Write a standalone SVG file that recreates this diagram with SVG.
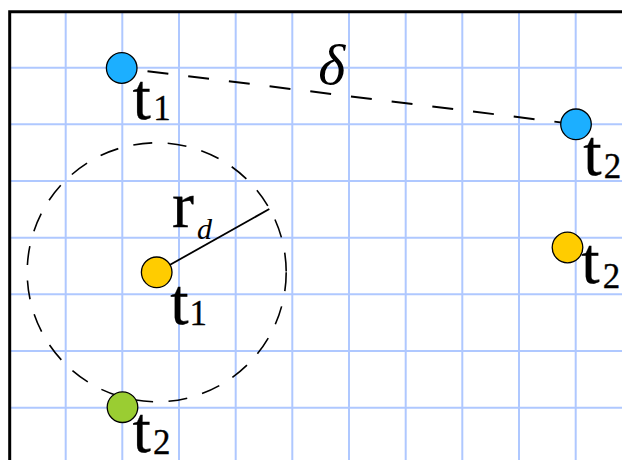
<svg xmlns="http://www.w3.org/2000/svg" width="622" height="460" viewBox="0 0 622 460">
<style>
.grid line{stroke:#AFC8FF;stroke-width:2}
.dot{stroke:#000;stroke-width:1.3}
.lbl{font-family:"Liberation Serif",serif;font-size:66px;text-anchor:middle;fill:#000;stroke:#000;stroke-width:0.3}
.sub{font-family:"Liberation Serif",serif;font-size:35px;text-anchor:middle;fill:#000;stroke:#000;stroke-width:0.3}
.it{font-family:"Liberation Serif",serif;font-style:italic;text-anchor:middle;fill:#000}
</style>
<rect width="622" height="460" fill="#fff"/>
<g id="grid" class="grid">
<line x1="65.7" y1="11" x2="65.7" y2="460"/>
<line x1="122.3" y1="11" x2="122.3" y2="460"/>
<line x1="179" y1="11" x2="179" y2="460"/>
<line x1="235.7" y1="11" x2="235.7" y2="460"/>
<line x1="292.3" y1="11" x2="292.3" y2="460"/>
<line x1="349" y1="11" x2="349" y2="460"/>
<line x1="405.7" y1="11" x2="405.7" y2="460"/>
<line x1="462.3" y1="11" x2="462.3" y2="460"/>
<line x1="519" y1="11" x2="519" y2="460"/>
<line x1="575.7" y1="11" x2="575.7" y2="460"/>
<line x1="9" y1="67.7" x2="622" y2="67.7"/>
<line x1="9" y1="124.3" x2="622" y2="124.3"/>
<line x1="9" y1="181" x2="622" y2="181"/>
<line x1="9" y1="237.7" x2="622" y2="237.7"/>
<line x1="9" y1="294.3" x2="622" y2="294.3"/>
<line x1="9" y1="351" x2="622" y2="351"/>
<line x1="9" y1="407.7" x2="622" y2="407.7"/>
</g>
<path id="frame" d="M9.7,460 V11.7 H622" fill="none" stroke="#000" stroke-width="3"/>
<g id="connectors" fill="none" stroke="#000">
<line x1="121.7" y1="68" x2="576" y2="124.3" stroke-width="2" stroke-dasharray="21 20" stroke-dashoffset="15"/>
<path d="M286.2,272.3 A129.5,129.5 0 1 1 27.2,272.3 A129.5,129.5 0 1 1 286.2,272.3" stroke-width="1.6" stroke-dasharray="19 15.5"/>
<line x1="156.7" y1="272.3" x2="269.3" y2="209" stroke-width="1.8"/>
</g>
<g id="node-blue-t1"><circle class="dot" cx="121.7" cy="68" r="15.3" fill="#1CAFFF"/></g>
<g id="node-blue-t2"><circle class="dot" cx="576" cy="124.3" r="15.3" fill="#1CAFFF"/></g>
<g id="node-yellow-t1"><circle class="dot" cx="156.7" cy="272.3" r="15.3" fill="#FFCC00"/></g>
<g id="node-yellow-t2"><circle class="dot" cx="567.5" cy="247.5" r="15.3" fill="#FFCC00"/></g>
<g id="node-green-t2"><circle class="dot" cx="122.5" cy="407.2" r="15.3" fill="#9ACD32"/></g>
<g id="labels">
<text class="lbl" x="141.7" y="118.5">t</text><text class="sub" x="162" y="120">1</text>
<text class="lbl" x="179.3" y="324">t</text><text class="sub" x="198.3" y="325">1</text>
<text class="lbl" x="592.5" y="174.5">t</text><text class="sub" x="612.5" y="178">2</text>
<text class="lbl" x="590.3" y="282.5">t</text><text class="sub" x="611.5" y="287.5">2</text>
<text class="lbl" x="141.7" y="451.5">t</text><text class="sub" x="161.7" y="453.5">2</text>
<text class="it" x="331.8" y="84" font-size="58">δ</text>
<text class="lbl" x="183" y="226.5" font-size="52">r</text>
<text class="it" x="204.5" y="238.5" font-size="30">d</text>
</g>
</svg>
